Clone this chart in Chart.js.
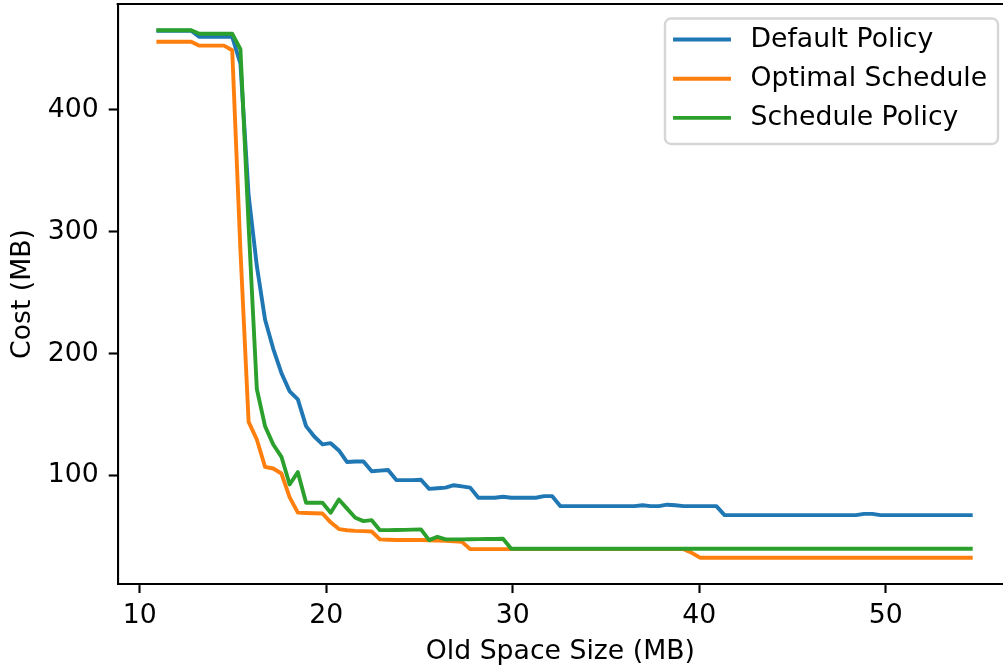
<!DOCTYPE html>
<html>
<head>
<meta charset="utf-8">
<script src="https://cdn.jsdelivr.net/npm/chart.js@4/dist/chart.umd.min.js"></script>
<style>
  html, body { margin: 0; padding: 0; background: #fff; }
  #wrap { width: 1003px; height: 670px; overflow: hidden; }
</style>
</head>
<body>
<div id="wrap"><canvas id="chart" width="1003" height="670"></canvas></div>
<script>
// old space size (MB), one point per run
const sizes = [
    11.00, 11.44, 11.88, 12.32, 12.76, 13.20, 13.64, 14.08, 14.52, 14.96,
    15.40, 15.84, 16.28, 16.72, 17.16, 17.60, 18.04, 18.48, 18.92, 19.36,
    19.80, 20.24, 20.68, 21.12, 21.56, 22.00, 22.44, 22.88, 23.32, 23.76,
    24.20, 24.64, 25.08, 25.52, 25.96, 26.40, 26.84, 27.28, 27.72, 28.16,
    28.60, 29.04, 29.48, 29.92, 30.36, 30.80, 31.24, 31.68, 32.12, 32.56,
    33.00, 33.44, 33.88, 34.32, 34.76, 35.20, 35.64, 36.08, 36.52, 36.96,
    37.40, 37.84, 38.28, 38.72, 39.16, 39.60, 40.04, 40.48, 40.92, 41.36,
    41.80, 42.24, 42.68, 43.12, 43.56, 44.00, 44.44, 44.88, 45.32, 45.76,
    46.20, 46.64, 47.08, 47.52, 47.96, 48.40, 48.84, 49.28, 49.72, 50.16,
    50.60, 51.04, 51.48, 51.92, 52.36, 52.80, 53.24, 53.68, 54.12, 54.56
];

// cost (MB) for each policy
const defaultPolicy = [
    465, 465, 465, 465, 465, 460, 460, 460, 460, 460,
    438, 330, 272, 228, 204, 184, 169, 162.5, 140.5, 132,
    125.5, 126.5, 120.5, 111, 111.5, 111.5, 103.5, 104, 104.5, 96.2,
    96.2, 96.2, 96.5, 89, 89.5, 90, 92, 91, 90, 81.7,
    81.7, 81.7, 82.5, 81.7, 81.7, 81.7, 81.7, 83, 83, 74.8,
    74.8, 74.8, 74.8, 74.8, 74.8, 74.8, 74.8, 74.8, 74.8, 75.5,
    74.8, 74.8, 76, 75.5, 74.8, 74.8, 74.8, 74.8, 74.8, 67.4,
    67.4, 67.4, 67.4, 67.4, 67.4, 67.4, 67.4, 67.4, 67.4, 67.4,
    67.4, 67.4, 67.4, 67.4, 67.4, 67.4, 68.5, 68.5, 67.4, 67.4,
    67.4, 67.4, 67.4, 67.4, 67.4, 67.4, 67.4, 67.4, 67.4, 67.4
];

const optimalSchedule = [
    456, 456, 456, 456, 456, 452.8, 452.8, 452.8, 452.8, 449,
    285, 144, 129.5, 107, 105.7, 101.6, 82, 69.5, 69.2, 69,
    68.8, 61.5, 56, 55, 54.5, 54.3, 54, 47.5, 47.2, 47,
    47, 47, 47, 46.8, 46.5, 46.3, 46, 45.5, 39.5, 39.5,
    39.5, 39.5, 39.5, 39.5, 39.5, 39.5, 39.5, 39.5, 39.5, 39.5,
    39.5, 39.5, 39.5, 39.5, 39.5, 39.5, 39.5, 39.5, 39.5, 39.5,
    39.5, 39.5, 39.5, 39.5, 39.5, 36.5, 32.5, 32.5, 32.5, 32.5,
    32.5, 32.5, 32.5, 32.5, 32.5, 32.5, 32.5, 32.5, 32.5, 32.5,
    32.5, 32.5, 32.5, 32.5, 32.5, 32.5, 32.5, 32.5, 32.5, 32.5,
    32.5, 32.5, 32.5, 32.5, 32.5, 32.5, 32.5, 32.5, 32.5, 32.5
];

const schedulePolicy = [
    465.4, 465.4, 465.4, 465.4, 465.4, 462.6, 462.6, 462.6, 462.6, 462.6,
    450, 305, 171, 140.5, 125.4, 115.3, 92.6, 102.7, 77.6, 77.6,
    77.6, 69.4, 80.3, 72.8, 65.3, 62.5, 63.3, 55.1, 55.1, 55.2,
    55.3, 55.5, 55.7, 46.9, 49.7, 47.5, 47.5, 47.5, 47.6, 47.7,
    47.8, 47.9, 48, 39.8, 39.8, 39.8, 39.8, 39.8, 39.8, 39.8,
    39.8, 39.8, 39.8, 39.8, 39.8, 39.8, 39.8, 39.8, 39.8, 39.8,
    39.8, 39.8, 39.8, 39.8, 39.8, 39.8, 39.8, 39.8, 39.8, 39.8,
    39.8, 39.8, 39.8, 39.8, 39.8, 39.8, 39.8, 39.8, 39.8, 39.8,
    39.8, 39.8, 39.8, 39.8, 39.8, 39.8, 39.8, 39.8, 39.8, 39.8,
    39.8, 39.8, 39.8, 39.8, 39.8, 39.8, 39.8, 39.8, 39.8, 39.8
];

const seriesNames = ['Default Policy', 'Optimal Schedule', 'Schedule Policy'];
const seriesColors = ['#1f77b4', '#ff7f0e', '#2ca02c'];
const xTicks = [10, 20, 30, 40, 50];
const yTicks = [100, 200, 300, 400];

const toPoints = ys => ys.map((y, i) => ({ x: sizes[i], y: y }));

const FONT = 26.7;
Chart.defaults.font.family = '"DejaVu Sans", sans-serif';
Chart.defaults.font.size = FONT;
Chart.defaults.color = '#000';

const LW = 3.9;     // plot line width
const SPINE = 2.1;  // axis line width

// top spine + legend box in the upper right, like the original figure
const framePlugin = {
    id: 'frame',
    afterDatasetsDraw(chart) {
        const ctx = chart.ctx;
        const a = chart.chartArea;
        ctx.save();
        ctx.strokeStyle = '#000';
        ctx.lineWidth = SPINE;
        ctx.beginPath();
        ctx.moveTo(a.left - SPINE / 2, a.top);
        ctx.lineTo(a.right, a.top);
        ctx.stroke();

        // legend
        const bx = 665, by = 18.5, bw = 333, bh = 125.5, r = 6;
        ctx.fillStyle = 'rgba(255,255,255,0.8)';
        ctx.strokeStyle = 'rgba(204,204,204,0.8)';
        ctx.lineWidth = 2.4;
        ctx.beginPath();
        ctx.roundRect(bx, by, bw, bh, r);
        ctx.fill();
        ctx.stroke();

        ctx.font = FONT + 'px "DejaVu Sans", sans-serif';
        ctx.textBaseline = 'middle';
        ctx.textAlign = 'left';
        chart.data.datasets.forEach((ds, i) => {
            const y = 39.5 + i * 39.2;
            ctx.strokeStyle = ds.borderColor;
            ctx.lineWidth = LW;
            ctx.lineCap = 'square';
            ctx.beginPath();
            ctx.moveTo(675, y);
            ctx.lineTo(729, y);
            ctx.stroke();
            ctx.fillStyle = '#000';
            ctx.fillText(ds.label, 750.5, y + 0.5);
        });
        ctx.restore();
    }
};

// no extra room for half tick labels at the axis ends
const noEndPadding = axis => {
    axis.paddingTop = 0;
    axis.paddingBottom = 0;
    axis.paddingLeft = 0;
    axis.paddingRight = 0;
};

const ctx = document.getElementById('chart').getContext('2d');
const chart = new Chart(ctx, {
    type: 'line',
    data: {
        datasets: [
            { label: seriesNames[0], data: toPoints(defaultPolicy), borderColor: seriesColors[0], order: 3 },
            { label: seriesNames[1], data: toPoints(optimalSchedule), borderColor: seriesColors[1], order: 2 },
            { label: seriesNames[2], data: toPoints(schedulePolicy), borderColor: seriesColors[2], order: 1 }
        ]
    },
    options: {
        responsive: false,
        animation: false,
        events: [],
        layout: { padding: { top: 4, right: 0, bottom: 0, left: 0 } },
        elements: {
            line: { borderWidth: LW, tension: 0, fill: false, borderJoinStyle: 'round', borderCapStyle: 'square' },
            point: { radius: 0, hoverRadius: 0 }
        },
        plugins: {
            legend: { display: false },
            tooltip: { enabled: false }
        },
        scales: {
            x: {
                type: 'linear',
                min: 8.82,
                max: 56.29,
                afterBuildTicks: axis => { axis.ticks = xTicks.map(v => ({ value: v })); },
                afterFit: axis => { axis.height = 86; noEndPadding(axis); },
                ticks: { padding: 7, maxRotation: 0, autoSkip: false },
                grid: { drawOnChartArea: false, drawTicks: true, tickLength: 9, tickWidth: SPINE, tickColor: '#000' },
                border: { color: '#000', width: SPINE },
                title: { display: true, text: 'Old Space Size (MB)', padding: { top: 0, bottom: 2 } }
            },
            y: {
                type: 'linear',
                min: 10.9,
                max: 487,
                afterBuildTicks: axis => { axis.ticks = yTicks.map(v => ({ value: v })); },
                afterFit: axis => { axis.width = 117.7; noEndPadding(axis); },
                ticks: { padding: 10, autoSkip: false },
                grid: { drawOnChartArea: false, drawTicks: true, tickLength: 9, tickWidth: SPINE, tickColor: '#000' },
                border: { color: '#000', width: SPINE },
                title: { display: true, text: 'Cost (MB)', padding: { top: 7, bottom: 0 } }
            }
        }
    },
    plugins: [framePlugin]
});
</script>
</body>
</html>
